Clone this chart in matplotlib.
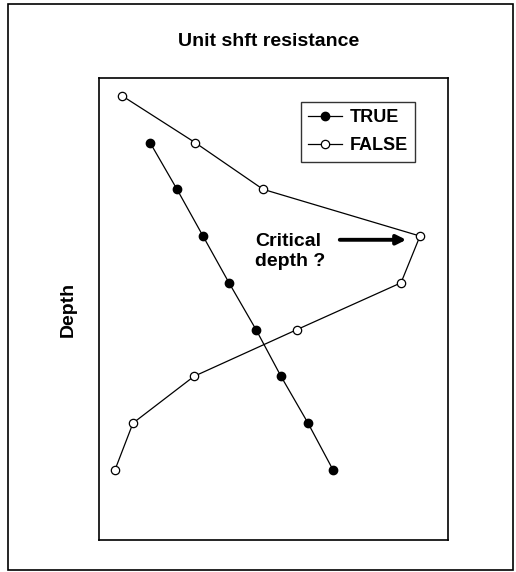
import matplotlib.pyplot as plt
from matplotlib.patches import Rectangle

plt.rcParams['font.family'] = ['Liberation Sans', 'DejaVu Sans']

# depth levels (0 = top of pile) and unit shaft resistance (arbitrary units)
depth_false = [0, 1, 2, 3, 4, 5, 6, 7, 8]
res_false = [2.3, 9.6, 16.4, 32.1, 30.2, 19.8, 9.5, 3.4, 1.6]
depth_true = [1, 2, 3, 4, 5, 6, 7, 8]
res_true = [5.1, 7.8, 10.4, 13.0, 15.7, 18.2, 20.9, 23.4]

fig = plt.figure(figsize=(5.16, 5.72), dpi=100)
ax = fig.add_axes([99/516, 1 - 540/572, 349/516, 462/572])

ax.plot(res_true, depth_true, '-o', color='black', lw=0.9,
        markersize=6, markerfacecolor='black', label='TRUE')
ax.plot(res_false, depth_false, '-o', color='black', lw=0.9,
        markersize=6, markerfacecolor='white', markeredgewidth=0.9, label='FALSE')

ax.set_xlim(0, 34.9)
ax.set_ylim(9.5, -0.38)
ax.set_xticks([])
ax.set_yticks([])
for s in ax.spines.values():
    s.set_linewidth(1.2)

ax.set_ylabel('Depth', fontsize=14, fontweight='bold', labelpad=16)
fig.text(269/516, 1 - 42/572, 'Unit shft resistance', ha='center', va='center',
         fontsize=14, fontweight='bold')

leg = ax.legend(loc='upper right', bbox_to_anchor=(0.905, 0.948),
                prop={'weight': 'bold', 'size': 13}, frameon=True, fancybox=False,
                handlelength=1.9, handletextpad=0.4, borderpad=0.4, labelspacing=0.62,
                borderaxespad=0)
leg.get_frame().set_edgecolor('black')
leg.get_frame().set_linewidth(1.0)

ax.annotate('', xy=(31.0, 3.08), xytext=(23.8, 3.08),
            arrowprops=dict(arrowstyle='-|>', color='black', lw=2.8, mutation_scale=14))
ax.text(15.6, 3.33, 'Critical\ndepth ?', fontsize=14, fontweight='bold',
        ha='left', va='center', linespacing=1.25)

fig.patches.append(Rectangle((8/516, 1 - 570/572), 505/516, 566/572,
                             transform=fig.transFigure, fill=False,
                             edgecolor='black', lw=1.2))

fig.savefig('out.png', dpi=100)
